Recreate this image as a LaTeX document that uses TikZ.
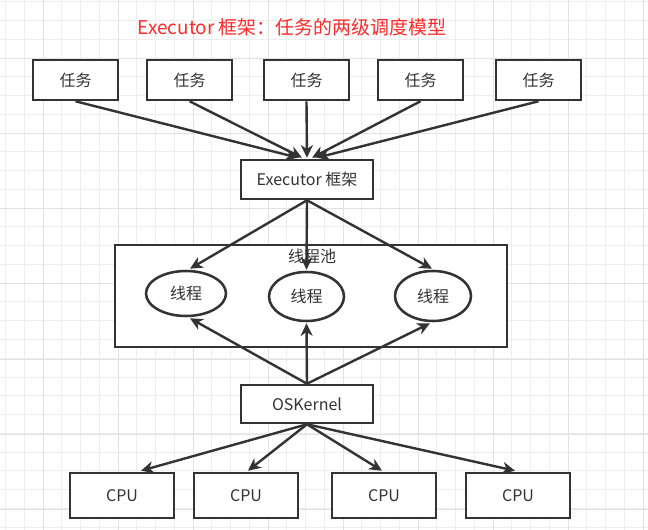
\documentclass[tikz,border=0pt]{standalone}
\usepackage{fontspec}
\newfontfamily\cjk{Noto Sans CJK SC}
\usetikzlibrary{arrows.meta,calc,shapes.geometric}
\definecolor{ink}{HTML}{333333}
\definecolor{gridminor}{HTML}{EEEEEE}
\definecolor{gridmajor}{HTML}{E2E2E2}
\definecolor{titlered}{HTML}{FF2A2A}
\begin{document}
\begin{tikzpicture}[x=0.75pt,y=-0.75pt,
  lbl/.style={font=\cjk\fontsize{12}{14}\selectfont,text=ink},
  box/.style={draw=ink,line width=1.9pt,fill=white,inner sep=0pt,lbl},
  oval/.style={ellipse,draw=ink,line width=1.9pt,fill=white,inner sep=0pt,lbl},
  arr/.style={draw=ink,line width=1.8pt,-{Stealth[length=9.5pt,width=9pt,inset=3pt]}}]
\useasboundingbox[fill=white] (0,0) rectangle (648,530);
% grid
\foreach \i in {0,...,34} {\draw[gridminor,line width=0.75pt] ({5.5+18.75*\i},0) -- ({5.5+18.75*\i},530);}
\foreach \i in {0,...,28} {\draw[gridminor,line width=0.75pt] (0,{2+18.75*\i}) -- (648,{2+18.75*\i});}
\foreach \i in {0,...,8} {\draw[gridmajor,line width=0.75pt] ({43+75*\i},0) -- ({43+75*\i},530);}
\foreach \i in {0,...,6} {\draw[gridmajor,line width=0.75pt] (0,{59+75*\i}) -- (648,{59+75*\i});}
% title
\node[font=\cjk\fontsize{14.2}{17}\selectfont,text=titlered] (title) at (292,27) {Executor 框架：任务的两级调度模型};
% tasks
\foreach \n/\x in {1/75.5,2/189.5,3/306.5,4/420.5,5/538.5}
  {\node[box,minimum width=63.75pt,minimum height=30pt] (t\n) at (\x,80) {任务};}
\node[box,minimum width=99pt,minimum height=29.25pt] (ex) at (307,179.5) {Executor 框架};
% pool
\node[box,minimum width=294pt,minimum height=76.5pt] (pool) at (311,296) {};
\node[lbl] (poollbl) at (312,256) {线程池};
\draw[arr] (t1.south) -- ($(ex.north)+(-9,-1)$);
\draw[arr] (t2.south) -- ($(ex.north)+(-5,-1)$);
\draw[arr] (t3.south) -- ($(ex.north)+(0,-1)$);
\draw[arr] (t4.south) -- ($(ex.north)+(5,-1)$);
\draw[arr] (t5.south) -- ($(ex.north)+(10,-1)$);
\node[oval,minimum width=60pt,minimum height=33.75pt] (e1) at (186,293.5) {线程};
\node[oval,minimum width=56.25pt,minimum height=36.75pt] (e2) at (306.5,296.5) {线程};
\node[oval,minimum width=57pt,minimum height=37.5pt] (e3) at (433,296) {线程};
\draw[arr] (ex.south) -- ($(e1.north)+(4,-1)$);
\draw[arr] (ex.south) -- ($(e2.north)+(0,-1)$);
\draw[arr] (ex.south) -- ($(e3.north)+(-1,-1)$);
\node[box,minimum width=99pt,minimum height=28.5pt] (os) at (307,404) {OSKernel};
\draw[arr] (os.north) -- ($(e1.south)+(4,1)$);
\draw[arr] (os.north) -- ($(e2.south)+(0,1)$);
\draw[arr] (os.north) -- ($(e3.south)+(-3,1)$);
% cpus
\foreach \n/\x in {1/122,2/246,3/384,4/518}
  {\node[box,minimum width=78pt,minimum height=33.75pt] (c\n) at (\x,495.5) {CPU};}
\draw[arr] (os.south) -- ($(c1.north)+(19,-1)$);
\draw[arr] (os.south) -- ($(c2.north)+(2,-1)$);
\draw[arr] (os.south) -- ($(c3.north)+(-2,-1)$);
\draw[arr] (os.south) -- ($(c4.north)+(-3,-1)$);
\end{tikzpicture}
\end{document}
